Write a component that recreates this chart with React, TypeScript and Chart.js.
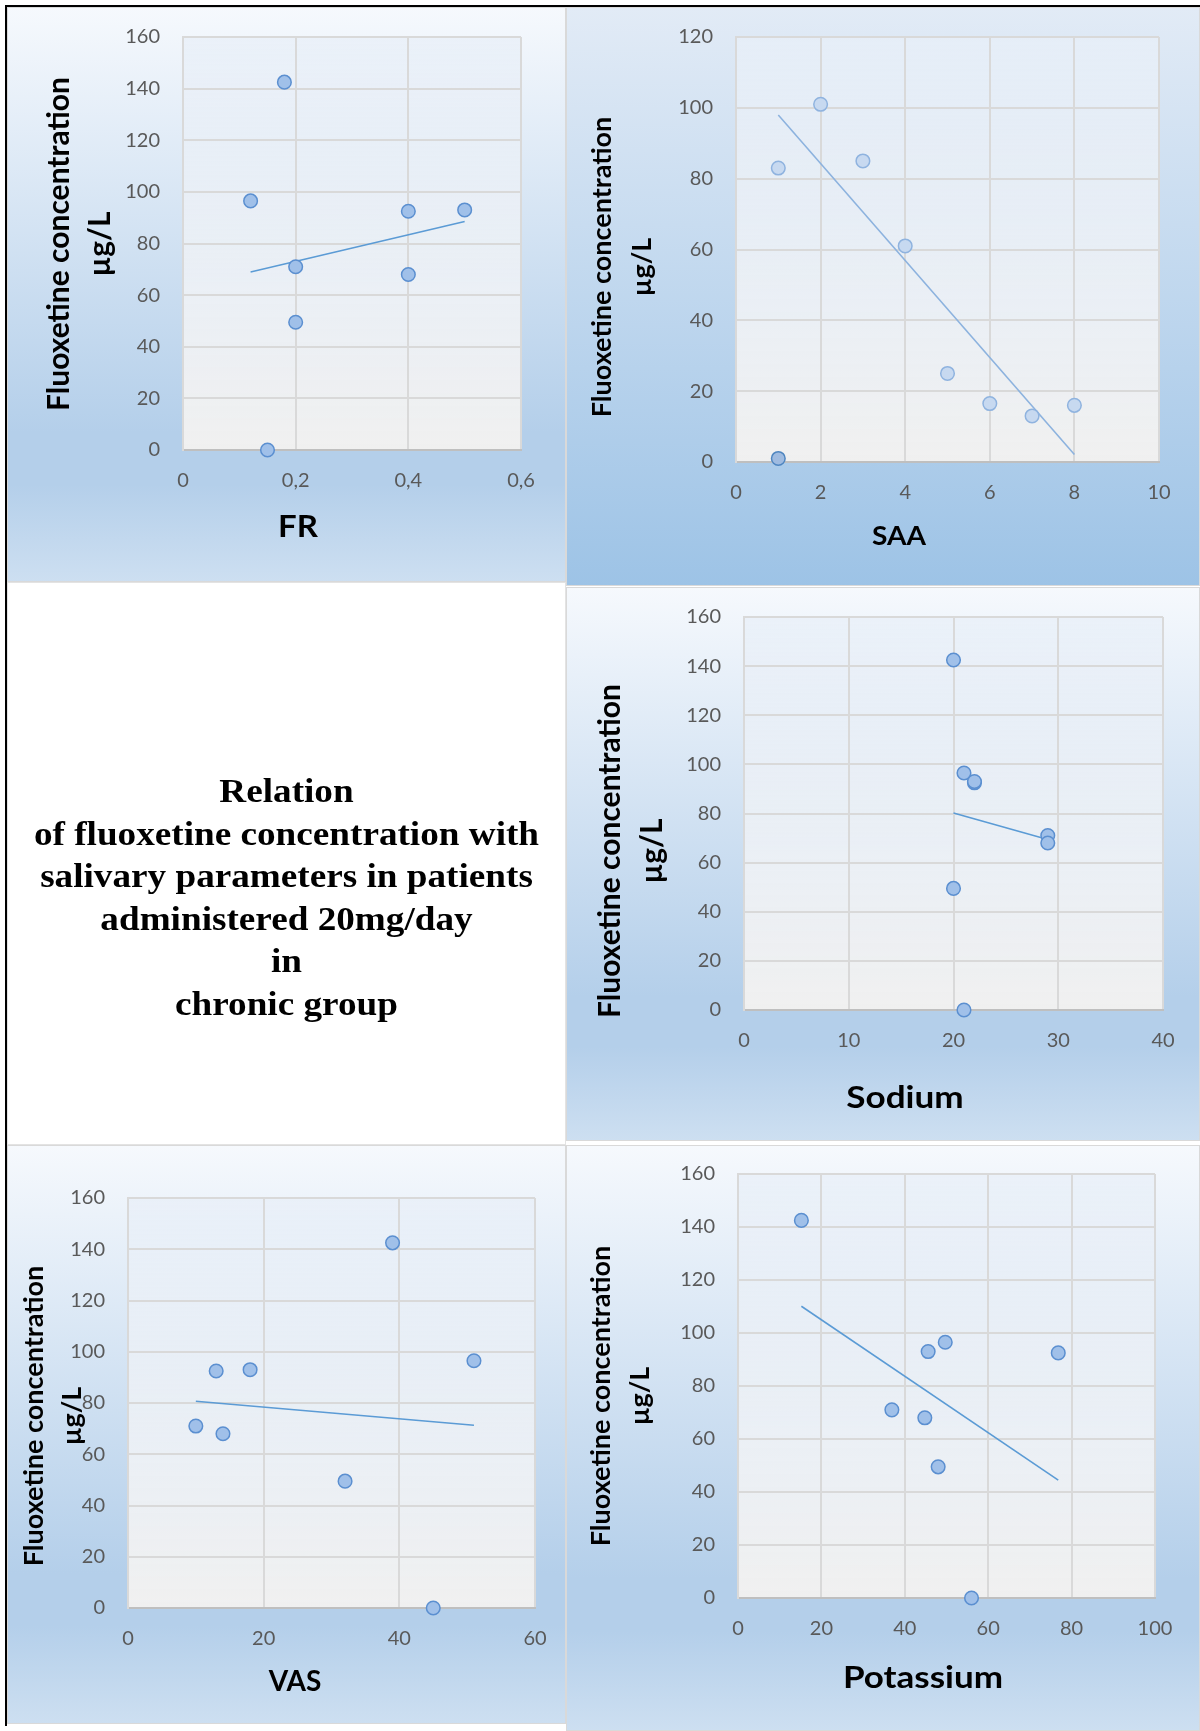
import React, { useEffect, useRef } from 'react';
import { Chart, registerables } from 'chart.js';

Chart.register(...registerables);

// ---------------- data ----------------
const FR_X = [0.18, 0.12, 0.4, 0.5, 0.2, 0.4, 0.2, 0.15];
const FR_Y = [142.5, 96.5, 92.5, 93, 71, 68, 49.5, 0];

const SAA_X = [1, 2, 3, 4, 5, 6, 7, 8];
const SAA_Y = [83, 101, 85, 61, 25, 16.5, 13, 16];
const SAA_EXTRA_X = [1];
const SAA_EXTRA_Y = [1];

const SODIUM_X = [20, 21, 22, 22, 29, 29, 20, 21];
const SODIUM_Y = [142.5, 96.5, 92.5, 93, 71, 68, 49.5, 0];

const VAS_X = [39, 51, 13, 18, 10, 14, 32, 45];
const VAS_Y = [142.5, 96.5, 92.5, 93, 71, 68, 49.5, 0];

const POTASSIUM_X = [15.2, 49.7, 45.6, 76.8, 36.9, 44.8, 48, 56];
const POTASSIUM_Y = [142.5, 96.5, 93, 92.5, 71, 68, 49.5, 0];

const Y_TITLE = ['Fluoxetine concentration', 'µg/L'];
const X_TITLES = ['FR', 'SAA', 'Sodium', 'VAS', 'Potassium'];

// axis ranges [min, max, step]
const FR_X_RANGE = [0, 0.6, 0.2];
const SAA_X_RANGE = [0, 10, 2];
const SODIUM_X_RANGE = [0, 40, 10];
const VAS_X_RANGE = [0, 60, 20];
const POTASSIUM_X_RANGE = [0, 100, 20];
const Y_RANGE_160 = [0, 160, 20];
const Y_RANGE_120 = [0, 120, 20];

const CAPTION_LINES = [
  'Relation',
  'of fluoxetine concentration with',
  'salivary parameters in patients',
  'administered 20mg/day',
  'in',
  'chronic group',
];

// ---------------- styles ----------------
const LIGHT_BG =
  'linear-gradient(to bottom, #f6f9fd 0%, #b4cfea 74%, #b4cfea 83%, #cddff1 100%)';
const SAA_BG = 'linear-gradient(to bottom, #e2ebf6 0%, #9dc3e6 100%)';

const MAIN_STYLE = { fill: '#a0c0e9', border: '#5b8fd0', line: '#5b9bd5' };
const SAA_STYLE = { fill: '#c7d9f0', border: '#8fb3df', line: '#8cb2de' };
const SAA_EXTRA_STYLE = { fill: '#9fbbe0', border: '#4f86c0' };

function trendLine(xs: number[], ys: number[]) {
  const n = xs.length;
  const mx = xs.reduce((a, b) => a + b, 0) / n;
  const my = ys.reduce((a, b) => a + b, 0) / n;
  let sxy = 0;
  let sxx = 0;
  for (let i = 0; i < n; i++) {
    sxy += (xs[i] - mx) * (ys[i] - my);
    sxx += (xs[i] - mx) * (xs[i] - mx);
  }
  const slope = sxy / sxx;
  const x0 = Math.min(...xs);
  const x1 = Math.max(...xs);
  return [
    { x: x0, y: my + slope * (x0 - mx) },
    { x: x1, y: my + slope * (x1 - mx) },
  ];
}

type PanelCfg = {
  left: number;
  top: number;
  width: number;
  height: number;
  background: string;
  plot: { left: number; right: number; top: number; bottom: number };
  xRange: number[];
  yRange: number[];
  xs: number[];
  ys: number[];
  extraXs?: number[];
  extraYs?: number[];
  style: { fill: string; border: string; line: string };
  comma?: boolean;
  xTitle: string;
  xTitlePos: [number, number];
  xTitleSize: number;
  xTitleStretch: number;
  yTitleCY: number;
  yTitleX: [number, number];
  yTitleSize: number;
};

const PANELS: PanelCfg[] = [
  {
    left: 7, top: 7, width: 559, height: 575, background: LIGHT_BG,
    plot: { left: 176, right: 514, top: 30, bottom: 443 },
    xRange: FR_X_RANGE, yRange: Y_RANGE_160, xs: FR_X, ys: FR_Y,
    style: MAIN_STYLE, comma: true,
    xTitle: X_TITLES[0], xTitlePos: [291, 520], xTitleSize: 30, xTitleStretch: 1.1,
    yTitleCY: 237, yTitleX: [52, 93], yTitleSize: 30,
  },
  {
    left: 566, top: 7, width: 634, height: 579, background: SAA_BG,
    plot: { left: 170, right: 593, top: 30, bottom: 455 },
    xRange: SAA_X_RANGE, yRange: Y_RANGE_120, xs: SAA_X, ys: SAA_Y,
    extraXs: SAA_EXTRA_X, extraYs: SAA_EXTRA_Y,
    style: SAA_STYLE,
    xTitle: X_TITLES[1], xTitlePos: [333, 529], xTitleSize: 27, xTitleStretch: 1.04,
    yTitleCY: 260, yTitleX: [36, 76], yTitleSize: 27,
  },
  {
    left: 566, top: 587, width: 634, height: 554, background: LIGHT_BG,
    plot: { left: 178, right: 597, top: 30, bottom: 423 },
    xRange: SODIUM_X_RANGE, yRange: Y_RANGE_160, xs: SODIUM_X, ys: SODIUM_Y,
    style: MAIN_STYLE,
    xTitle: X_TITLES[2], xTitlePos: [339, 511], xTitleSize: 30, xTitleStretch: 1.17,
    yTitleCY: 264, yTitleX: [44, 86], yTitleSize: 30,
  },
  {
    left: 7, top: 1145, width: 559, height: 579, background: LIGHT_BG,
    plot: { left: 121, right: 528, top: 53, bottom: 463 },
    xRange: VAS_X_RANGE, yRange: Y_RANGE_160, xs: VAS_X, ys: VAS_Y,
    style: MAIN_STYLE,
    xTitle: X_TITLES[3], xTitlePos: [288, 537], xTitleSize: 28, xTitleStretch: 1.0,
    yTitleCY: 271, yTitleX: [27, 65], yTitleSize: 27,
  },
  {
    left: 566, top: 1145, width: 634, height: 586, background: LIGHT_BG,
    plot: { left: 172, right: 589, top: 29, bottom: 453 },
    xRange: POTASSIUM_X_RANGE, yRange: Y_RANGE_160, xs: POTASSIUM_X, ys: POTASSIUM_Y,
    style: MAIN_STYLE,
    xTitle: X_TITLES[4], xTitlePos: [357, 533], xTitleSize: 31, xTitleStretch: 1.13,
    yTitleCY: 251, yTitleX: [35, 74], yTitleSize: 27,
  },
];

const TICK_FONT = { family: 'Lato', size: 20 };
const TICK_COLOR = '#595959';
const GRID_COLOR = '#d9d9d9';
const NO_COLOR = 'rgba(0,0,0,0)';

function ScatterPanel({ cfg }: { cfg: PanelCfg }) {
  const ref = useRef<HTMLCanvasElement | null>(null);

  useEffect(() => {
    if (!ref.current) return;
    const c = cfg;

    const plotBg = {
      id: 'plotBg',
      beforeDraw(chart: any) {
        const { ctx, chartArea: a } = chart;
        const g = ctx.createLinearGradient(0, a.top, 0, a.bottom);
        g.addColorStop(0, 'rgba(232,239,248,0.75)');
        g.addColorStop(0.6, 'rgba(236,240,245,0.95)');
        g.addColorStop(1, 'rgba(240,240,240,1)');
        ctx.save();
        ctx.fillStyle = g;
        ctx.fillRect(a.left, a.top, a.right - a.left, a.bottom - a.top);
        ctx.restore();
      },
    };

    const titles = {
      id: 'axisTitles',
      afterDraw(chart: any) {
        const { ctx } = chart;
        ctx.save();
        ctx.fillStyle = '#000';
        ctx.textAlign = 'center';
        ctx.textBaseline = 'middle';
        ctx.save();
        ctx.translate(c.xTitlePos[0], c.xTitlePos[1]);
        ctx.scale(c.xTitleStretch, 1);
        ctx.font = `bold ${c.xTitleSize}px Lato`;
        ctx.fillText(c.xTitle, 0, 0);
        ctx.restore();
        ctx.font = `bold ${c.yTitleSize}px Lato`;
        Y_TITLE.forEach((line, i) => {
          ctx.save();
          ctx.translate(c.yTitleX[i], c.yTitleCY);
          ctx.rotate(-Math.PI / 2);
          ctx.fillText(line, 0, 0);
          ctx.restore();
        });
        ctx.restore();
      },
    };

    const datasets: any[] = [
      {
        type: 'scatter',
        data: c.xs.map((x, i) => ({ x, y: c.ys[i] })),
        backgroundColor: c.style.fill,
        borderColor: c.style.border,
        borderWidth: 1.5,
        pointRadius: 6.8,
        pointHoverRadius: 6.8,
        order: 1,
        clip: false,
      },
      {
        type: 'line',
        data: trendLine(c.xs, c.ys),
        borderColor: c.style.line,
        borderWidth: 1.6,
        pointRadius: 0,
        showLine: true,
        fill: false,
        tension: 0,
        order: 3,
        clip: false,
      },
    ];
    if (c.extraXs && c.extraYs) {
      datasets.push({
        type: 'scatter',
        data: c.extraXs.map((x, i) => ({ x, y: c.extraYs![i] })),
        backgroundColor: SAA_EXTRA_STYLE.fill,
        borderColor: SAA_EXTRA_STYLE.border,
        borderWidth: 1.5,
        pointRadius: 6.8,
        order: 0,
        clip: false,
      });
    }

    const fmt = (v: any) => {
      const n = Math.round(Number(v) * 100) / 100;
      const s = String(n);
      return c.comma ? s.replace('.', ',') : s;
    };

    const chart = new Chart(ref.current, {
      type: 'scatter',
      data: { datasets },
      options: {
        responsive: false,
        animation: false,
        events: [],
        layout: {
          padding: {
            left: 0,
            top: c.plot.top,
            right: c.width - c.plot.right,
            bottom: 0,
          },
        },
        plugins: {
          legend: { display: false },
          tooltip: { enabled: false },
          title: { display: false },
        },
        scales: {
          x: {
            type: 'linear',
            position: 'bottom',
            min: c.xRange[0],
            max: c.xRange[1],
            ticks: {
              stepSize: c.xRange[2],
              padding: 0,
              color: TICK_COLOR,
              font: TICK_FONT,
              maxRotation: 0,
              autoSkip: false,
              callback: fmt,
            },
            grid: {
              color: GRID_COLOR,
              lineWidth: 2,
              drawTicks: true,
              tickLength: 19,
              tickColor: NO_COLOR,
            },
            border: { color: '#bfbfbf', width: 2 },
            afterFit: (s: any) => {
              s.height = c.height - c.plot.bottom;
            },
          },
          y: {
            type: 'linear',
            position: 'left',
            min: c.yRange[0],
            max: c.yRange[1],
            ticks: {
              stepSize: c.yRange[2],
              padding: 0,
              color: TICK_COLOR,
              font: TICK_FONT,
              callback: fmt,
            },
            grid: {
              color: GRID_COLOR,
              lineWidth: 2,
              drawTicks: true,
              tickLength: 23,
              tickColor: NO_COLOR,
            },
            border: { color: GRID_COLOR, width: 2 },
            afterFit: (s: any) => {
              s.width = c.plot.left;
            },
          },
        },
      } as any,
      plugins: [plotBg, titles],
    });
    return () => chart.destroy();
  }, [cfg]);

  return (
    <div
      style={{
        position: 'absolute',
        left: cfg.left,
        top: cfg.top,
        width: cfg.width,
        height: cfg.height,
        background: cfg.background,
        boxShadow: 'inset 0 0 0 1px #d9d9d9',
      }}
    >
      <canvas
        ref={ref}
        width={cfg.width}
        height={cfg.height}
        style={{ display: 'block', width: cfg.width, height: cfg.height }}
      />
    </div>
  );
}

export default function App() {
  return (
    <div
      style={{
        position: 'absolute',
        left: 0,
        top: 0,
        width: 1200,
        height: 1731,
        background: '#ffffff',
        overflow: 'hidden',
      }}
    >
      {PANELS.map((p, i) => (
        <ScatterPanel key={i} cfg={p} />
      ))}
      <div
        style={{
          position: 'absolute',
          left: 7,
          top: 582,
          width: 559,
          height: 563,
          background: '#ffffff',
          boxShadow: 'inset 0 0 0 1px #e3e3e3',
        }}
      >
        <div
          style={{
            paddingTop: 188,
            fontFamily: '"Liberation Serif", "Times New Roman", serif',
            fontWeight: 'bold',
            fontSize: 33,
            lineHeight: '42.5px',
            textAlign: 'center',
            color: '#000',
            transform: 'scaleX(1.127)',
            transformOrigin: 'center top',
          }}
        >
          {CAPTION_LINES.map((l) => (
            <div key={l}>{l}</div>
          ))}
        </div>
      </div>
      <div style={{ position: 'absolute', left: 5, top: 5, width: 1195, height: 2, background: '#000' }} />
      <div style={{ position: 'absolute', left: 5, top: 5, width: 2, height: 1721, background: '#000' }} />
    </div>
  );
}
